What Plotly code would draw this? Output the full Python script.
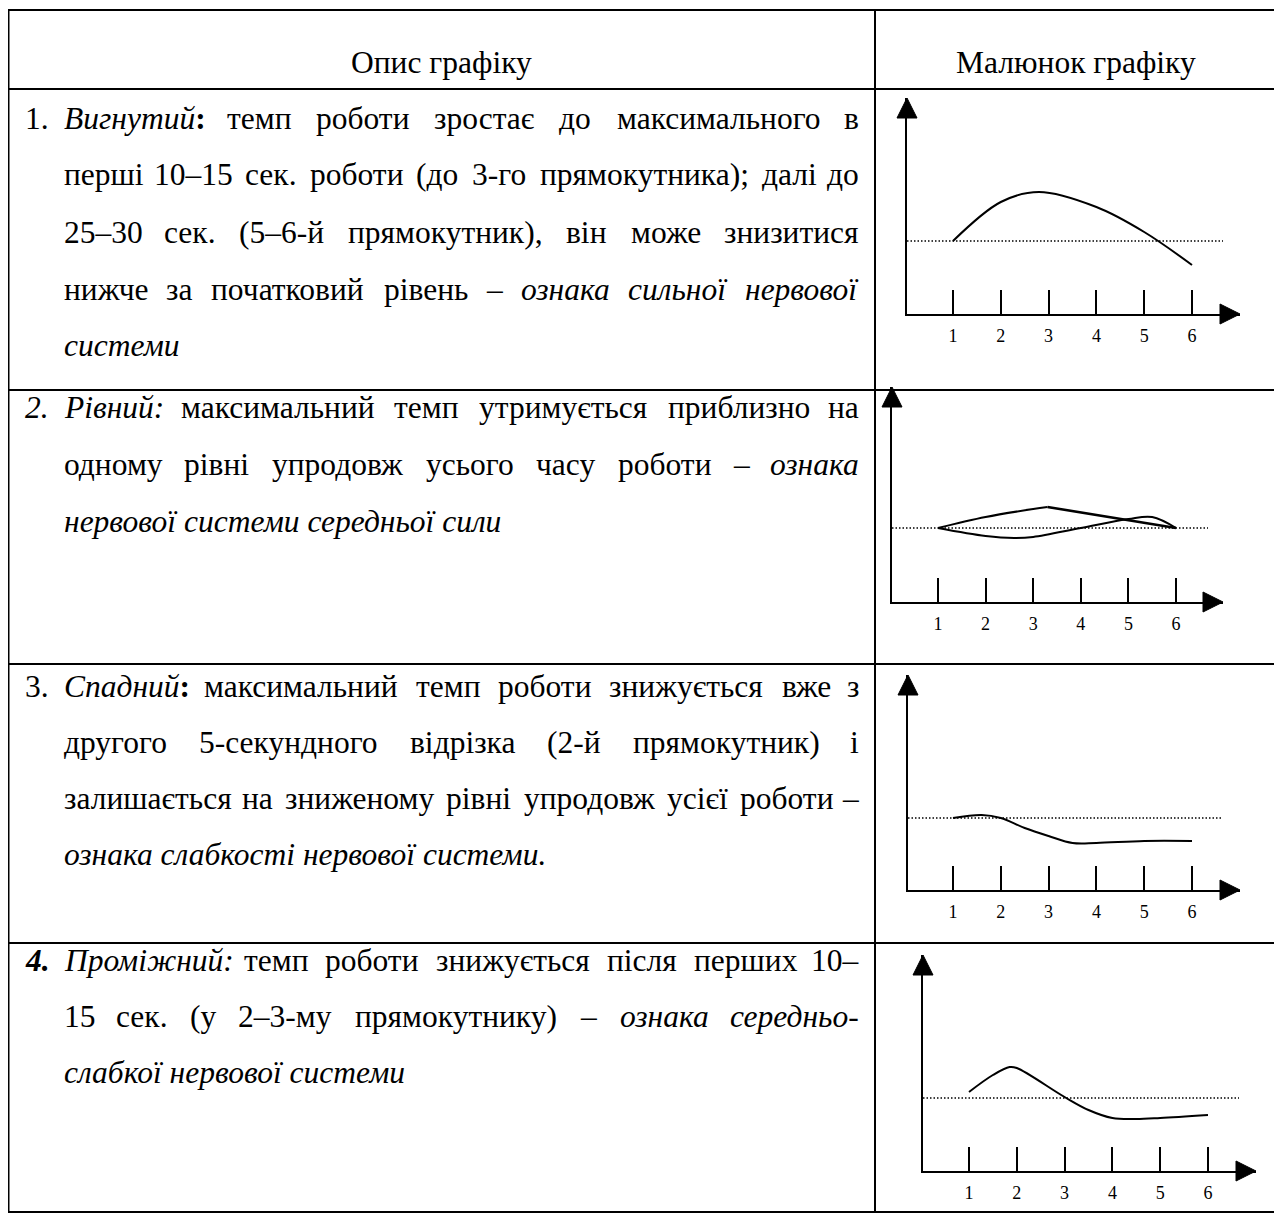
import re
import plotly.graph_objects as go

# ---------------- data ----------------
tick_vals = [1, 2, 3, 4, 5, 6]
tick_labels = ["1", "2", "3", "4", "5", "6"]

# chart 1 – "Вигнутий"
c1_base = 7.3
c1_x = [1, 2, 2.8, 4, 5, 6]
c1_y = [7.3, 11.2, 12.2, 10.7, 8.2, 4.9]

# chart 2 – "Рівний" (two envelope curves + straight segment)
c2_base = 7.4
c2a_x = [1, 2, 3, 3.3]
c2a_y = [7.4, 8.5, 9.3, 9.5]
c2s_x = [3.3, 6]
c2s_y = [9.5, 7.4]
c2b_x = [1, 2, 2.6, 3, 4, 5, 5.5, 6]
c2b_y = [7.4, 6.6, 6.4, 6.5, 7.4, 8.3, 8.5, 7.4]

# chart 3 – "Спадний"
c3_base = 7.2
c3_x = [1, 1.6, 2, 2.5, 3, 3.5, 4, 5, 6]
c3_y = [7.2, 7.5, 7.2, 6.2, 5.4, 4.7, 4.7, 4.9, 4.9]

# chart 4 – "Проміжний"
c4_base = 7.3
c4_x = [1, 1.5, 1.85, 2, 3, 3.5, 4, 4.5, 5, 6]
c4_y = [7.9, 9.6, 10.4, 10.3, 7.4, 6.1, 5.3, 5.2, 5.3, 5.6]

header_left = "Опис графіку"
header_right = "Малюнок графіку"

row_numbers = ["1.", "<i>2.</i>", "3.", "<b><i>4.</i></b>"]

row1_lines = [
    "<i>Вигнутий</i><b>:</b> темп роботи зростає до максимального в",
    "перші 10–15 сек. роботи (до 3-го прямокутника); далі до",
    "25–30 сек. (5–6-й прямокутник), він може знизитися",
    "нижче за початковий рівень – <i>ознака сильної нервової</i>",
    "<i>системи</i>",
]
row2_lines = [
    "<i>Рівний:</i> максимальний темп утримується приблизно на",
    "одному рівні упродовж усього часу роботи – <i>ознака</i>",
    "<i>нервової системи середньої сили</i>",
]
row3_lines = [
    "<i>Спадний</i><b>:</b> максимальний темп роботи знижується вже з",
    "другого 5-секундного відрізка (2-й прямокутник) і",
    "залишається на зниженому рівні упродовж усієї роботи –",
    "<i>ознака слабкості нервової системи.</i>",
]
row4_lines = [
    "<i>Проміжний:</i> темп роботи знижується після перших 10–",
    "15 сек. (у 2–3-му прямокутнику) – <i>ознака середньо-</i>",
    "<i>слабкої нервової системи</i>",
]

# ---------------- layout helpers ----------------
# the page body has an 8px margin, so the figure is drawn 8px in from the corner
OFF = 8
W, H = 1282 - OFF, 1214 - OFF
FONT = "Liberation Serif"
FS = 31.5
TXT_L, TXT_R, NUM_X = 62, 861, 23
row_text_y = [
    [118, 175, 232, 289, 346],
    [407, 464, 521],
    [686, 742, 798, 854],
    [960, 1016, 1072],
]
row_lines_y = [89, 390, 664, 943]
TOP, BOTTOM, LEFT, RIGHT, DIV = 10, 1212, 8.5, 1277, 875


def px(x):
    return (x - OFF) / W


def py(y):
    return 1 - (y - OFF) / H


# approximate Times-like advance widths (per 1000 em)
REG = {
    'а': 444, 'б': 509, 'в': 472, 'г': 410, 'д': 509, 'е': 444, 'є': 444, 'ж': 691,
    'з': 395, 'и': 535, 'і': 278, 'ї': 278, 'й': 535, 'к': 486, 'л': 499, 'м': 633,
    'н': 535, 'о': 500, 'п': 535, 'р': 500, 'с': 444, 'т': 437, 'у': 500, 'ф': 648,
    'х': 500, 'ц': 535, 'ч': 503, 'ш': 770, 'щ': 770, 'ь': 456, 'ю': 747, 'я': 486,
    'О': 722, 'М': 889, 'В': 667, 'Р': 556, 'С': 667, 'П': 722,
    ' ': 250, '.': 250, ',': 250, ':': 278, ';': 278, '(': 333, ')': 333,
    '-': 333, '–': 500,
}
ITAL = {
    'т': 680, 'и': 500, 'п': 500, 'й': 500, 'ш': 722, 'щ': 722, 'ц': 500, 'н': 500,
    'м': 700, 'к': 463, 'л': 500, 'д': 500, 'г': 407, 'в': 463, 'ж': 800, 'з': 389,
    'я': 500, 'у': 444, 'ь': 444, 'а': 500, 'б': 500, 'х': 444, 'ч': 500, 'ю': 700,
    'В': 611, 'Р': 611, 'С': 667, 'П': 722,
}


def char_w(c, it, bd):
    if c.isdigit():
        w = 500
    elif it and c in ITAL:
        w = ITAL[c]
    else:
        w = REG.get(c, 500)
    if bd:
        w *= 1.08
    return w


def parse_runs(s):
    runs, it, bd = [], False, False
    for tok in re.split(r'(</?[ib]>)', s):
        if tok == '<i>':
            it = True
        elif tok == '</i>':
            it = False
        elif tok == '<b>':
            bd = True
        elif tok == '</b>':
            bd = False
        elif tok:
            runs.append((tok, it, bd))
    return runs


def words_of(s):
    words = [[]]
    for text, it, bd in parse_runs(s):
        parts = text.split(' ')
        for k, p in enumerate(parts):
            if k > 0:
                words.append([])
            if p:
                words[-1].append((p, it, bd))
    return [w for w in words if w]


def word_html(w):
    out = ''
    for t, it, bd in w:
        h = t
        if bd:
            h = '<b>' + h + '</b>'
        if it:
            h = '<i>' + h + '</i>'
        out += h
    return out


def word_width(w):
    return sum(char_w(c, it, bd) for t, it, bd in w for c in t) * FS / 1000


annotations = []


def add_text(x, y, text, anchor='left', size=FS):
    annotations.append(dict(
        x=px(x), y=py(y), xref='paper', yref='paper', text=text,
        showarrow=False, xanchor=anchor, yanchor='middle',
        font=dict(family=FONT, size=size, color='black'),
    ))


def add_justified(y, line):
    ws = words_of(line)
    widths = [word_width(w) for w in ws]
    n = len(ws)
    gap = (TXT_R - TXT_L - sum(widths)) / (n - 1)
    left = TXT_L
    for i, w in enumerate(ws):
        if i == 0:
            add_text(TXT_L, y, word_html(w), 'left')
        elif i == n - 1:
            add_text(TXT_R, y, word_html(w), 'right')
        else:
            add_text(left + widths[i] / 2, y, word_html(w), 'center')
        left += widths[i] + gap


add_text((7 + DIV) / 2, 63, header_left, 'center')
add_text((DIV + RIGHT) / 2, 63, header_right, 'center')

for r, lines in enumerate([row1_lines, row2_lines, row3_lines, row4_lines]):
    ys = row_text_y[r]
    add_text(NUM_X, ys[0], row_numbers[r], 'left')
    for k, line in enumerate(lines):
        if k < len(lines) - 1:
            add_justified(ys[k], line)
        else:
            add_text(TXT_L, ys[k], line, 'left')

# table grid
shapes = []
LW = 2


def hline(y, x0, x1):
    shapes.append(dict(type='line', xref='paper', yref='paper', x0=px(x0), x1=px(x1),
                       y0=py(y), y1=py(y), line=dict(color='black', width=LW)))


def vline(x, y0, y1):
    shapes.append(dict(type='line', xref='paper', yref='paper', x0=px(x), x1=px(x),
                       y0=py(y0), y1=py(y1), line=dict(color='black', width=LW)))


hline(TOP, LEFT - 1, RIGHT + 1)
hline(BOTTOM, LEFT - 1, RIGHT + 1)
for y in row_lines_y:
    hline(y, LEFT, RIGHT)
vline(LEFT, TOP, BOTTOM)
vline(RIGHT, TOP, BOTTOM)
vline(DIV, TOP, BOTTOM)

# chart geometry (pixel placement of each mini chart)
charts = [
    dict(ax=907, ay=314, t1=953, t6=1192, xtip=1240, ytip=98, dend=1223),
    dict(ax=892, ay=602, t1=938, t6=1176, xtip=1223, ytip=387, dend=1208),
    dict(ax=908, ay=890, t1=953, t6=1192, xtip=1240, ytip=675, dend=1223),
    dict(ax=923, ay=1171, t1=969, t6=1208, xtip=1256, ytip=955, dend=1239),
]
YPX = 10.0  # pixels per y unit
ARROW = 20

fig = go.Figure()
layout_axes = {}
series = [
    [(c1_x, c1_y, 2)],
    [(c2a_x, c2a_y, 2), (c2s_x, c2s_y, 2.6), (c2b_x, c2b_y, 2)],
    [(c3_x, c3_y, 2)],
    [(c4_x, c4_y, 2)],
]
bases = [c1_base, c2_base, c3_base, c4_base]

for i, g in enumerate(charts):
    n = i + 1
    xa = 'x' if n == 1 else f'x{n}'
    ya = 'y' if n == 1 else f'y{n}'
    dx = (g['t6'] - g['t1']) / 5.0
    xr0 = 1 + (g['ax'] - g['t1']) / dx
    xr1 = 1 + (g['xtip'] - g['t1']) / dx
    yr1 = (g['ay'] - g['ytip']) / YPX
    layout_axes['xaxis' if n == 1 else f'xaxis{n}'] = dict(
        domain=[px(g['ax']), px(g['xtip'])], range=[xr0, xr1], anchor=ya,
        showgrid=False, zeroline=False, showline=True, linecolor='black', linewidth=2,
        ticks='inside', ticklen=24, tickwidth=2, tickcolor='black',
        tickvals=tick_vals, ticktext=tick_labels, ticklabelstandoff=4,
        tickfont=dict(family=FONT, size=18, color='black'), fixedrange=True,
    )
    layout_axes['yaxis' if n == 1 else f'yaxis{n}'] = dict(
        domain=[py(g['ay']), py(g['ytip'])], range=[0, yr1], anchor=xa,
        showgrid=False, zeroline=False, showline=True, linecolor='black', linewidth=2,
        ticks='', showticklabels=False, fixedrange=True,
    )
    # dotted initial level
    xd1 = 1 + (g['dend'] - g['t1']) / dx
    fig.add_trace(go.Scatter(x=[xr0, xd1], y=[bases[i], bases[i]], xaxis=xa, yaxis=ya,
                             mode='lines', line=dict(color='black', width=1.4, dash='1.5px,2px'),
                             hoverinfo='skip'))
    # curves
    for sx, sy, w in series[i]:
        fig.add_trace(go.Scatter(x=sx, y=sy, xaxis=xa, yaxis=ya, mode='lines',
                                 line=dict(color='black', width=w, shape='spline', smoothing=1.0),
                                 hoverinfo='skip'))
    # arrow heads of the axes (kept exactly on the range limits)
    fig.add_trace(go.Scatter(x=[xr1], y=[0], xaxis=xa, yaxis=ya,
                             mode='markers', cliponaxis=False,
                             marker=dict(symbol='arrow-right', size=ARROW, color='black',
                                         line=dict(width=1, color='black')),
                             hoverinfo='skip'))
    fig.add_trace(go.Scatter(x=[xr0], y=[yr1], xaxis=xa, yaxis=ya,
                             mode='markers', cliponaxis=False,
                             marker=dict(symbol='arrow-up', size=ARROW, color='black',
                                         line=dict(width=1, color='black')),
                             hoverinfo='skip'))

fig.update_layout(
    width=W, height=H, autosize=False,
    margin=dict(l=0, r=0, t=0, b=0),
    paper_bgcolor='white', plot_bgcolor='rgba(0,0,0,0)',
    showlegend=False, annotations=annotations, shapes=shapes,
    **layout_axes,
)

fig.write_html("out.html")
